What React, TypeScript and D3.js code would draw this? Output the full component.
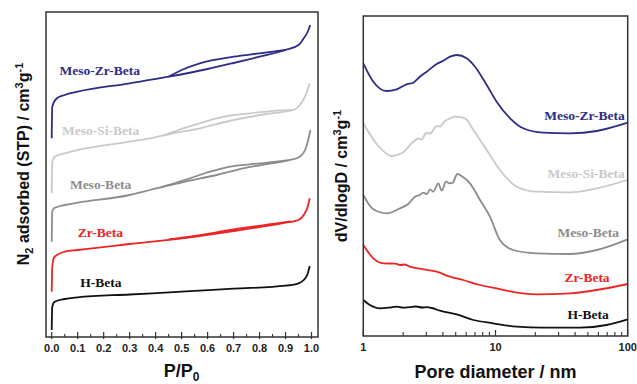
import React from 'react';
import * as d3 from 'd3';

type Pt = [number, number];

// ---- N2 isotherms (P/P0, adsorbed, arbitrary offset units) ----
const hBetaAds: Pt[] = [[0, 7], [0.002, 30], [0.01, 35], [0.05, 38], [0.1, 39.7], [0.3, 42.5], [0.5, 45.3], [0.7, 48.3], [0.9, 51.3], [0.95, 53.7], [0.97, 57], [0.985, 63], [0.993, 71]];
const zrBetaAds: Pt[] = [[0, 45.3], [0.002, 70], [0.01, 80], [0.05, 85.3], [0.1, 87], [0.3, 93], [0.5, 98.7], [0.7, 106], [0.9, 114.3], [0.95, 117], [0.97, 122], [0.985, 130], [0.993, 138.7]];
const zrBetaDes: Pt[] = [[0.45, 97.5], [0.55, 101], [0.7, 107.5], [0.85, 113], [0.92, 115.5]];
const mesoBetaAds: Pt[] = [[0, 95.3], [0.002, 125.3], [0.01, 129], [0.05, 132], [0.1, 134.3], [0.3, 142], [0.378, 147], [0.455, 152], [0.532, 156.3], [0.635, 162], [0.737, 168.7], [0.827, 173], [0.917, 177], [0.955, 180.3], [0.98, 190.3], [0.996, 207]];
const mesoBetaDes: Pt[] = [[0.42, 149.5], [0.532, 158.7], [0.609, 165.3], [0.673, 169.7], [0.763, 172.7], [0.865, 175.3], [0.917, 177]];
const mesoSiAds: Pt[] = [[0, 144], [0.002, 174], [0.01, 180], [0.05, 183.7], [0.1, 187], [0.3, 195.3], [0.378, 198.7], [0.455, 203], [0.57, 208.7], [0.7, 217], [0.827, 223], [0.93, 227], [0.955, 232], [0.975, 240.3], [0.993, 253.7]];
const mesoSiDes: Pt[] = [[0.43, 201.5], [0.506, 208.7], [0.57, 213.7], [0.635, 218.7], [0.7, 222], [0.763, 223.7], [0.865, 226.3], [0.93, 227]];
const mesoZrAds: Pt[] = [[0, 198.7], [0.002, 230.3], [0.02, 238.7], [0.05, 242], [0.1, 245.3], [0.3, 253.7], [0.45, 260.3], [0.6, 268], [0.7, 274], [0.8, 280.3], [0.9, 287], [0.95, 292], [0.97, 298.7], [0.985, 305], [0.995, 312]];
const mesoZrDes: Pt[] = [[0.45, 260.3], [0.5, 267], [0.57, 273.7], [0.7, 280.3], [0.8, 283.7], [0.9, 287]];

// ---- pore size distributions (D nm, dV/dlogD offset units) ----
const mesoZrPsd: Pt[] = [[1, 272.7], [1.19, 254.3], [1.5, 245], [1.79, 246.7], [2.13, 251.7], [2.39, 253.3], [2.68, 259.3], [3.02, 264.3], [3.59, 272], [4.03, 275.3], [4.53, 279.3], [5.09, 281], [6.05, 277.7], [7.0, 269.3], [8.58, 251], [10.2, 234.3], [12.9, 217.7], [16.2, 207.7], [22.9, 203.3], [36.6, 202.7], [58.3, 205], [100, 213.3]];
const mesoSiPsd: Pt[] = [[1, 212.7], [1.3, 190], [1.64, 180], [1.95, 182.7], [2.39, 194.3], [2.6, 197.5], [2.75, 196.5], [3.0, 203], [3.2, 202.5], [3.6, 210], [3.8, 209.5], [4.1, 214.5], [4.6, 218], [5.03, 219.3], [5.88, 217.7], [6.8, 206], [8.58, 186], [10.8, 166], [14.5, 149.3], [20.5, 144.3], [36.6, 143.7], [58.3, 147.7], [100, 156]];
const mesoBetaPsd: Pt[] = [[1, 141], [1.19, 126.7], [1.5, 122.7], [1.9, 127.7], [2.19, 132], [2.46, 139.3], [2.68, 141], [2.84, 143.3], [3.02, 142], [3.2, 146.7], [3.38, 144.3], [3.69, 152.7], [3.92, 145.3], [4.22, 154.3], [4.47, 152.7], [4.75, 153.3], [5.14, 162], [5.71, 158.7], [6.41, 152.7], [7.64, 136], [9.08, 119.3], [10.8, 96], [13.6, 86], [20.5, 82.7], [36.6, 82], [58.3, 86], [100, 96.7]];
const zrBetaPsd: Pt[] = [[1, 91], [1.19, 77.7], [1.42, 72.7], [1.75, 72.3], [1.9, 71], [2.05, 71.5], [2.25, 69.3], [2.84, 66.7], [3.59, 64.3], [4.53, 59.3], [5.7, 56], [7.64, 51], [10.2, 47.7], [14.5, 43.3], [20.5, 41.7], [36.6, 42.7], [58.3, 46], [100, 52]];
const hBetaPsd: Pt[] = [[1, 36], [1.12, 31], [1.34, 27.7], [1.6, 28.5], [1.79, 29.3], [2.0, 28.3], [2.25, 28.9], [2.5, 29.5], [2.8, 28.5], [3.02, 28.9], [3.3, 28], [3.8, 25.3], [5.09, 21.7], [6.8, 16], [9.6, 12.7], [14.5, 9.3], [22.9, 8.3], [43.6, 8.3], [69.2, 11], [100, 16.7]];

const names = ['Meso-Zr-Beta', 'Meso-Si-Beta', 'Meso-Beta', 'Zr-Beta', 'H-Beta'];
const colors = ['#2d2c86', '#c9c9c9', '#8c8c8c', '#ec2424', '#111111'];
const isoBranches: Pt[][][] = [[mesoZrAds, mesoZrDes], [mesoSiAds, mesoSiDes], [mesoBetaAds, mesoBetaDes], [zrBetaAds, zrBetaDes], [hBetaAds]];
const psds: Pt[][] = [mesoZrPsd, mesoSiPsd, mesoBetaPsd, zrBetaPsd, hBetaPsd];

// label anchors in data units
const isoLabelAt: Pt[] = [[0.03, 262], [0.04, 202], [0.07, 148], [0.1, 100], [0.11, 50]];
const psdLabelAt: Pt[] = [[95, 216], [95, 158], [86, 99], [73, 54], [72, 17]];

const pTicks = d3.range(0, 1.001, 0.1);
const pMinor = d3.range(0.05, 1, 0.1);
const dTicks = [1, 10, 100];
const dMinor = [2, 3, 4, 5, 6, 7, 8, 9, 20, 30, 40, 50, 60, 70, 80, 90];

const sans = 'Liberation Sans, Arial, sans-serif';
const serif = 'Liberation Serif, Times New Roman, serif';

export default function App() {
  const L = { x0: 46, x1: 318, y0: 12, y1: 337 };
  const R = { x0: 363.3, x1: 627.7, y0: 16, y1: 336 };

  const xP = d3.scaleLinear().domain([-0.022, 1.025]).range([L.x0, L.x1]);
  const yL = d3.scaleLinear().domain([0, 325]).range([L.y1, L.y0]);
  const xD = d3.scaleLog().domain([1, 100]).range([R.x0, R.x1]);
  const yR = d3.scaleLinear().domain([0, 320]).range([R.y1, R.y0]);

  const isoLine = d3.line<Pt>().x(d => xP(d[0])).y(d => yL(d[1])).curve(d3.curveMonotoneX);
  const psdLine = d3.line<Pt>().x(d => xD(d[0])).y(d => yR(d[1])).curve(d3.curveMonotoneX);

  return (
    <svg width={637} height={384} style={{ position: 'absolute', left: 0, top: 0, background: '#fff' }}>
      {/* left panel */}
      {isoBranches.map((br, i) => br.map((b, j) => (
        <path key={`iso${i}-${j}`} d={isoLine(b) || ''} fill="none" stroke={colors[i]} strokeWidth={1.8} />
      )))}
      {names.map((n, i) => (
        <text key={`il${i}`} x={xP(isoLabelAt[i][0])} y={yL(isoLabelAt[i][1])} fill={colors[i]}
          fontFamily={serif} fontWeight="bold" fontSize={13.5}>{n}</text>
      ))}
      <rect x={L.x0} y={L.y0} width={L.x1 - L.x0} height={L.y1 - L.y0} fill="none" stroke="#333" strokeWidth={1.5} />
      {pTicks.map(t => (
        <g key={`pt${t}`}>
          <line x1={xP(t)} x2={xP(t)} y1={L.y1 - 5} y2={L.y1 + 2} stroke="#333" strokeWidth={1.2} />
          <text x={xP(t)} y={L.y1 + 15} textAnchor="middle" fontFamily={sans} fontWeight="bold" fontSize={11} fill="#222">{t.toFixed(1)}</text>
        </g>
      ))}
      {pMinor.map(t => (
        <line key={`pm${t}`} x1={xP(t)} x2={xP(t)} y1={L.y1 - 3} y2={L.y1} stroke="#333" strokeWidth={1.1} />
      ))}
      <text x={(xP(0) + xP(1)) / 2} y={377} textAnchor="middle" fontFamily={sans} fontWeight="bold" fontSize={18} fill="#111">
        P/P<tspan fontSize={12} dy={4}>0</tspan>
      </text>
      <text transform="translate(29,164) rotate(-90)" textAnchor="middle" fontFamily={sans} fontWeight="bold" fontSize={16} fill="#111">
        N<tspan fontSize={11} dy={4}>2</tspan><tspan dy={-4}> adsorbed (STP) / cm</tspan><tspan fontSize={11} dy={-6}>3</tspan><tspan dy={6}>g</tspan><tspan fontSize={11} dy={-6}>-1</tspan>
      </text>

      {/* right panel */}
      {psds.map((p, i) => (
        <path key={`psd${i}`} d={psdLine(p) || ''} fill="none" stroke={colors[i]} strokeWidth={1.8} />
      ))}
      {names.map((n, i) => (
        <text key={`pl${i}`} x={xD(psdLabelAt[i][0])} y={yR(psdLabelAt[i][1])} fill={colors[i]} textAnchor="end"
          fontFamily={serif} fontWeight="bold" fontSize={13.5}>{n}</text>
      ))}
      <rect x={R.x0} y={R.y0} width={R.x1 - R.x0} height={R.y1 - R.y0} fill="none" stroke="#333" strokeWidth={1.5} />
      {dTicks.map(t => (
        <g key={`dt${t}`}>
          <line x1={xD(t)} x2={xD(t)} y1={R.y1 - 6} y2={R.y1} stroke="#333" strokeWidth={1.2} />
          <text x={xD(t)} y={R.y1 + 15} textAnchor="middle" fontFamily={sans} fontWeight="bold" fontSize={11} fill="#222">{t}</text>
        </g>
      ))}
      {dMinor.map(t => (
        <line key={`dm${t}`} x1={xD(t)} x2={xD(t)} y1={R.y1 - 4} y2={R.y1} stroke="#333" strokeWidth={1.1} />
      ))}
      <text x={xD(10)} y={378} textAnchor="middle" fontFamily={sans} fontWeight="bold" fontSize={18} fill="#111">Pore diameter / nm</text>
      <text transform="translate(347,176) rotate(-90)" textAnchor="middle" fontFamily={sans} fontWeight="bold" fontSize={16} fill="#111">
        dV/dlogD / cm<tspan fontSize={11} dy={-6}>3</tspan><tspan dy={6}>g</tspan><tspan fontSize={11} dy={-6}>-1</tspan>
      </text>
    </svg>
  );
}
